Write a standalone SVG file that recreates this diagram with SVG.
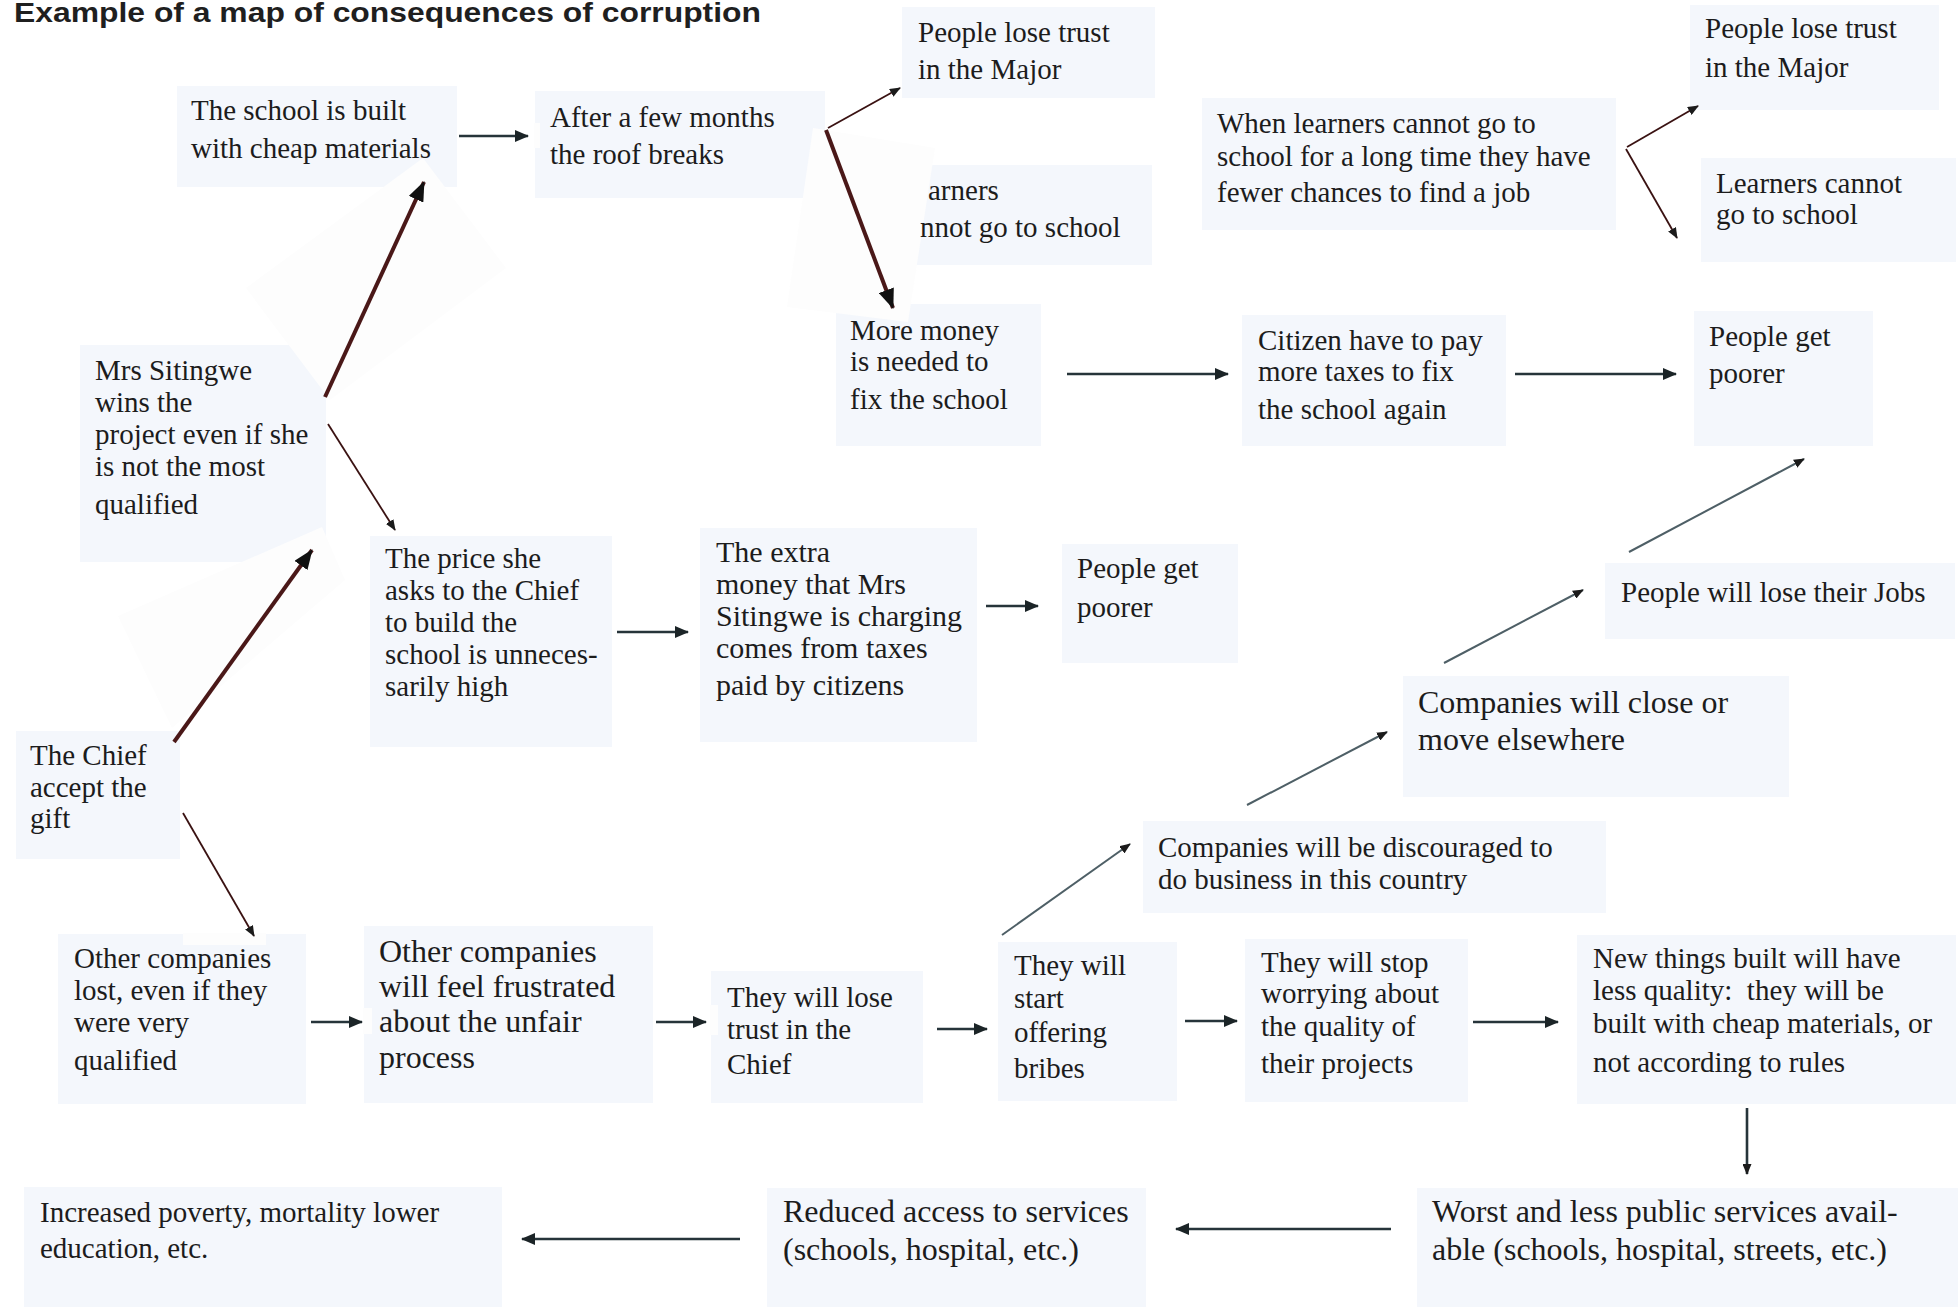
<svg xmlns="http://www.w3.org/2000/svg" width="1958" height="1307" viewBox="0 0 1958 1307">
<style>
.bx{fill:#f4f7fc}
.t{font-family:"Liberation Serif","Times New Roman",serif;font-size:29px;fill:#1c1c1c}
.tl{font-size:32px}
.tm{font-size:30px}
.title{font-family:"Liberation Sans",Arial,sans-serif;font-weight:bold;font-size:28px;fill:#1f1f1f}
.wh{fill:#fdfdfd}
.ch{stroke:#26343a;stroke-width:2.6;fill:none}
.rb{stroke:#3a1212;stroke-width:1.8;fill:none}
.tk{stroke:#4a1818;stroke-width:4;fill:none}
.sl{stroke:#4e5f66;stroke-width:2;fill:none}
</style>
<defs>
<marker id="ah" markerUnits="userSpaceOnUse" markerWidth="14" markerHeight="12" refX="13" refY="6" orient="auto"><path d="M0,0 L14,6 L0,12 Z" fill="#1b2427"/></marker>
<marker id="as" markerUnits="userSpaceOnUse" markerWidth="11" markerHeight="9" refX="10" refY="4.5" orient="auto"><path d="M0,0 L11,4.5 L0,9 Z" fill="#1b1b1b"/></marker>
<marker id="ab" markerUnits="userSpaceOnUse" markerWidth="20" markerHeight="16" refX="19" refY="8" orient="auto"><path d="M0,0 L20,8 L0,16 Z" fill="#111"/></marker>
</defs>
<rect width="1958" height="1307" fill="#fff"/>
<text class="title" x="14" y="22" textLength="747" lengthAdjust="spacingAndGlyphs">Example of a map of consequences of corruption</text>

<g id="n-school-built"><rect class="bx" x="177" y="86" width="280" height="101"/><text class="t" x="191" y="120">The school is built</text><text class="t" x="191" y="158">with cheap materials</text></g>
<g id="n-roof-breaks"><rect class="bx" x="535" y="91" width="290" height="107"/><text class="t" x="550" y="127">After a few months</text><text class="t" x="550" y="164">the roof breaks</text></g>
<g id="n-lose-trust-1"><rect class="bx" x="902" y="7" width="253" height="91"/><text class="t" x="918" y="42">People lose trust</text><text class="t" x="918" y="79">in the Major</text></g>
<g id="n-learners-1"><rect class="bx" x="902" y="165" width="250" height="100"/></g>
<g id="n-long-time"><rect class="bx" x="1202" y="98" width="414" height="132"/><text class="t" x="1217" y="133">When learners cannot go to</text><text class="t" x="1217" y="166">school for a long time they have</text><text class="t" x="1217" y="202">fewer chances to find a job</text></g>
<g id="n-lose-trust-2"><rect class="bx" x="1690" y="5" width="249" height="105"/><text class="t" x="1705" y="38">People lose trust</text><text class="t" x="1705" y="77">in the Major</text></g>
<g id="n-learners-2"><rect class="bx" x="1701" y="158" width="255" height="104"/><text class="t" x="1716" y="193">Learners cannot</text><text class="t" x="1716" y="224">go to school</text></g>
<g id="n-sitingwe"><rect class="bx" x="80" y="345" width="246" height="217"/><text class="t" x="95" y="380">Mrs Sitingwe</text><text class="t" x="95" y="412">wins the</text><text class="t" x="95" y="444">project even if she</text><text class="t" x="95" y="476">is not the most</text><text class="t" x="95" y="514">qualified</text></g>
<g id="n-price"><rect class="bx" x="370" y="536" width="242" height="211"/><text class="t" x="385" y="568">The price she</text><text class="t" x="385" y="600">asks to the Chief</text><text class="t" x="385" y="632">to build the</text><text class="t" x="385" y="664">school is unneces-</text><text class="t" x="385" y="696">sarily high</text></g>
<g id="n-extra-money"><rect class="bx" x="700" y="528" width="277" height="214"/><text class="t tm" x="716" y="562">The extra</text><text class="t tm" x="716" y="594">money that Mrs</text><text class="t tm" x="716" y="626">Sitingwe is charging</text><text class="t tm" x="716" y="658">comes from taxes</text><text class="t tm" x="716" y="695">paid by citizens</text></g>
<g id="n-more-money"><rect class="bx" x="836" y="304" width="205" height="142"/><text class="t" x="850" y="340">More money</text><text class="t" x="850" y="371">is needed to</text><text class="t" x="850" y="409">fix the school</text></g>
<g id="n-citizen"><rect class="bx" x="1242" y="315" width="264" height="131"/><text class="t" x="1258" y="350">Citizen have to pay</text><text class="t" x="1258" y="381">more taxes to fix</text><text class="t" x="1258" y="419">the school again</text></g>
<g id="n-poorer-1"><rect class="bx" x="1062" y="544" width="176" height="119"/><text class="t" x="1077" y="578">People get</text><text class="t" x="1077" y="617">poorer</text></g>
<g id="n-poorer-2"><rect class="bx" x="1694" y="311" width="179" height="135"/><text class="t" x="1709" y="346">People get</text><text class="t" x="1709" y="383">poorer</text></g>
<g id="n-jobs"><rect class="bx" x="1605" y="563" width="350" height="76"/><text class="t" x="1621" y="602">People will lose their Jobs</text></g>
<g id="n-close"><rect class="bx" x="1403" y="676" width="386" height="121"/><text class="t tl" x="1418" y="713">Companies will close or</text><text class="t tl" x="1418" y="750">move elsewhere</text></g>
<g id="n-discouraged"><rect class="bx" x="1143" y="821" width="463" height="92"/><text class="t" x="1158" y="857">Companies will be discouraged to</text><text class="t" x="1158" y="889">do business in this country</text></g>
<g id="n-chief"><rect class="bx" x="16" y="731" width="164" height="128"/><text class="t" x="30" y="765">The Chief</text><text class="t" x="30" y="797">accept the</text><text class="t" x="30" y="828">gift</text></g>
<g id="n-other-lost"><rect class="bx" x="58" y="934" width="248" height="170"/><text class="t" x="74" y="968">Other companies</text><text class="t" x="74" y="1000">lost, even if they</text><text class="t" x="74" y="1032">were very</text><text class="t" x="74" y="1070">qualified</text></g>
<g id="n-frustrated"><rect class="bx" x="364" y="926" width="289" height="177"/><text class="t tl" x="379" y="962">Other companies</text><text class="t tl" x="379" y="997">will feel frustrated</text><text class="t tl" x="379" y="1032">about the unfair</text><text class="t tl" x="379" y="1068">process</text></g>
<g id="n-lose-trust-chief"><rect class="bx" x="711" y="971" width="212" height="132"/><text class="t" x="727" y="1007">They will lose</text><text class="t" x="727" y="1039">trust in the</text><text class="t" x="727" y="1074">Chief</text></g>
<g id="n-bribes"><rect class="bx" x="998" y="942" width="179" height="159"/><text class="t" x="1014" y="975">They will</text><text class="t" x="1014" y="1008">start</text><text class="t" x="1014" y="1042">offering</text><text class="t" x="1014" y="1078">bribes</text></g>
<g id="n-stop-worrying"><rect class="bx" x="1245" y="939" width="223" height="163"/><text class="t" x="1261" y="972">They will stop</text><text class="t" x="1261" y="1003">worrying about</text><text class="t" x="1261" y="1036">the quality of</text><text class="t" x="1261" y="1073">their projects</text></g>
<g id="n-new-things"><rect class="bx" x="1577" y="935" width="379" height="169"/><text class="t" x="1593" y="968">New things built will have</text><text class="t" x="1593" y="1000">less quality:&#160; they will be</text><text class="t" x="1593" y="1033">built with cheap materials, or</text><text class="t" x="1593" y="1072">not according to rules</text></g>
<g id="n-worst-services"><rect class="bx" x="1417" y="1188" width="541" height="119"/><text class="t tl" x="1432" y="1222">Worst and less public services avail-</text><text class="t tl" x="1432" y="1260">able (schools, hospital, streets, etc.)</text></g>
<g id="n-reduced-access"><rect class="bx" x="767" y="1188" width="379" height="119"/><text class="t tl" x="783" y="1222">Reduced access to services</text><text class="t tl" x="783" y="1260">(schools, hospital, etc.)</text></g>
<g id="n-poverty"><rect class="bx" x="24" y="1187" width="478" height="120"/><text class="t" x="40" y="1222">Increased poverty, mortality lower</text><text class="t" x="40" y="1258">education, etc.</text></g>

<g id="overlays">
<polygon class="wh" points="423,158 506,268 330,400 246,288"/>
<polygon class="wh" points="322,527 345,580 172,728 118,616"/>
<polygon class="wh" points="813,128 935,148 908,322 787,307"/>
<rect class="wh" x="183" y="933" width="83" height="12"/>
<rect class="wh" x="363" y="1008" width="9" height="26"/>
<rect class="wh" x="534" y="123" width="6" height="25"/>
<rect class="wh" x="710" y="1005" width="8" height="30"/>
</g>
<g id="n-learners-1-text"><text class="t" x="928" y="200">arners</text><text class="t" x="920" y="237">nnot go to school</text></g>

<g id="connectors">
<line class="ch" x1="459" y1="136" x2="528" y2="136" marker-end="url(#ah)"/>
<line class="rb" x1="828" y1="128" x2="900" y2="88" marker-end="url(#as)"/>
<line class="tk" x1="826" y1="130" x2="893" y2="308" marker-end="url(#ab)"/>
<line class="rb" x1="1627" y1="147" x2="1698" y2="106" marker-end="url(#as)"/>
<line class="rb" x1="1626" y1="149" x2="1677" y2="238" marker-end="url(#as)"/>
<line class="tk" x1="325" y1="397" x2="424" y2="182" marker-end="url(#ab)"/>
<line class="rb" x1="328" y1="424" x2="395" y2="530" marker-end="url(#as)"/>
<line class="tk" x1="174" y1="742" x2="312" y2="550" marker-end="url(#ab)"/>
<line class="ch" x1="617" y1="632" x2="688" y2="632" marker-end="url(#ah)"/>
<line class="ch" x1="1067" y1="374" x2="1228" y2="374" marker-end="url(#ah)"/>
<line class="ch" x1="1515" y1="374" x2="1676" y2="374" marker-end="url(#ah)"/>
<line class="ch" x1="986" y1="606" x2="1038" y2="606" marker-end="url(#ah)"/>
<line class="sl" x1="1629" y1="552" x2="1804" y2="459" marker-end="url(#as)"/>
<line class="sl" x1="1444" y1="663" x2="1583" y2="590" marker-end="url(#as)"/>
<line class="sl" x1="1247" y1="805" x2="1387" y2="732" marker-end="url(#as)"/>
<line class="sl" x1="1002" y1="935" x2="1130" y2="844" marker-end="url(#as)"/>
<line class="rb" x1="183" y1="813" x2="254" y2="936" marker-end="url(#as)"/>
<line class="ch" x1="311" y1="1022" x2="362" y2="1022" marker-end="url(#ah)"/>
<line class="ch" x1="656" y1="1022" x2="706" y2="1022" marker-end="url(#ah)"/>
<line class="ch" x1="937" y1="1029" x2="987" y2="1029" marker-end="url(#ah)"/>
<line class="ch" x1="1185" y1="1021" x2="1237" y2="1021" marker-end="url(#ah)"/>
<line class="ch" x1="1473" y1="1022" x2="1558" y2="1022" marker-end="url(#ah)"/>
<line class="ch" x1="1747" y1="1108" x2="1747" y2="1174" marker-end="url(#as)"/>
<line class="ch" x1="1391" y1="1229" x2="1176" y2="1229" marker-end="url(#ah)"/>
<line class="ch" x1="740" y1="1239" x2="522" y2="1239" marker-end="url(#ah)"/>
</g>
</svg>
